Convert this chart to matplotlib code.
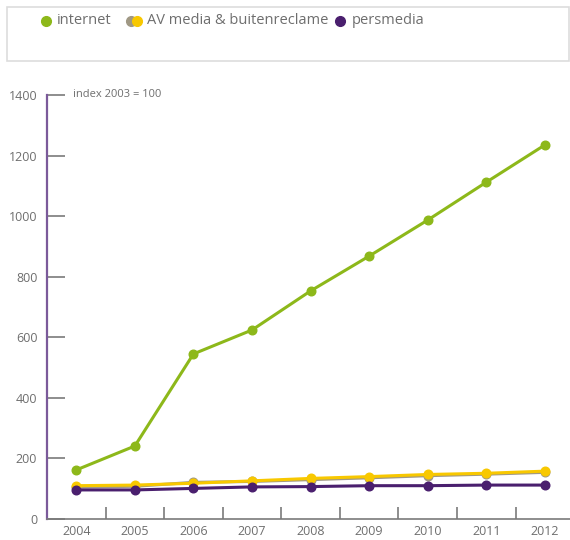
import matplotlib
matplotlib.use("Agg")
import matplotlib.pyplot as plt
from matplotlib.patches import Rectangle
from matplotlib.lines import Line2D

plt.rcParams["font.family"] = ["Open Sans", "DejaVu Sans"]

# data (index 2003 = 100)
years = ["2004", "2005", "2006", "2007", "2008", "2009", "2010", "2011", "2012"]
internet = [162, 241, 545, 624, 753, 868, 987, 1112, 1235]
av_grey = [105, 108, 121, 124, 130, 136, 143, 148, 154]
av_yellow = [110, 112, 118, 126, 134, 140, 147, 151, 158]
persmedia = [96, 96, 101, 106, 107, 110, 110, 112, 112]
y_ticks = [0, 200, 400, 600, 800, 1000, 1200, 1400]

GREEN = "#8db81a"
GREY = "#a09884"
YELLOW = "#f8c800"
PURPLE = "#4a1f6e"
TXT = "#6e6e6e"
AXIS = "#7a7a7a"

W, H = 570, 540
fig = plt.figure(figsize=(W / 100, H / 100), dpi=100)
fig.patch.set_facecolor("white")

# plot area: left spine at x=47, bottom at y=519, top (1400) at y=95
ax = fig.add_axes([47 / W, 1 - 519 / H, (W - 47) / W, (519 - 95) / H])
ax.set_facecolor("white")

x = list(range(len(years)))
lw, ms = 2.2, 6.2
ax.plot(x, av_grey, color=GREY, lw=lw, marker="o", ms=ms, zorder=3)
ax.plot(x, av_yellow, color=YELLOW, lw=lw, marker="o", ms=ms, zorder=4)
ax.plot(x, persmedia, color=PURPLE, lw=lw, marker="o", ms=ms, zorder=5)
ax.plot(x, internet, color=GREEN, lw=lw, marker="o", ms=ms, zorder=6)

ax.set_xlim(-0.5, 8.43)
ax.set_ylim(0, 1400)

for s in ["top", "right"]:
    ax.spines[s].set_visible(False)
ax.spines["left"].set_color("#7b5a9a")
ax.spines["left"].set_linewidth(1.6)
ax.spines["bottom"].set_color(AXIS)
ax.spines["bottom"].set_linewidth(1.2)

ax.set_yticks(y_ticks)
ax.set_yticklabels([str(v) for v in y_ticks])
ax.tick_params(axis="y", direction="in", length=13, width=1.2, color=AXIS,
               labelcolor=TXT, labelsize=9, pad=7)

# x ticks at category boundaries, labels at category centres
ax.set_xticks([i + 0.5 for i in x[:-1]])
ax.set_xticklabels([])
ax.set_xticks(x, minor=True)
ax.set_xticklabels(years, minor=True)
ax.tick_params(axis="x", which="major", direction="in", length=9, width=1.2, color=AXIS)
ax.tick_params(axis="x", which="minor", length=0, labelcolor=TXT, labelsize=9, pad=4)

ax.text(-0.05, 1400, "index 2003 = 100", color=TXT, fontsize=8, va="center", ha="left")

# legend box
fig.add_artist(Rectangle((7 / W, 1 - 61 / H), (562 / W), 54 / H, transform=fig.transFigure,
                         facecolor="white", edgecolor="#dddddd", lw=1.2))
ly = 1 - 21 / H
lms = 7
fig.add_artist(Line2D([46 / W], [ly], transform=fig.transFigure, marker="o", ms=lms,
                      color=GREEN, lw=0))
fig.text(57 / W, ly, "internet", color=TXT, fontsize=10.5, va="center")
fig.add_artist(Line2D([131 / W], [ly], transform=fig.transFigure, marker="o", ms=lms,
                      color=GREY, lw=0))
fig.add_artist(Line2D([137 / W], [ly], transform=fig.transFigure, marker="o", ms=lms,
                      color=YELLOW, lw=0))
fig.text(147 / W, ly, "AV media & buitenreclame", color=TXT, fontsize=10.5, va="center")
fig.add_artist(Line2D([340 / W], [ly], transform=fig.transFigure, marker="o", ms=lms,
                      color=PURPLE, lw=0))
fig.text(352 / W, ly, "persmedia", color=TXT, fontsize=10.5, va="center")

fig.savefig("out.png", dpi=100)
